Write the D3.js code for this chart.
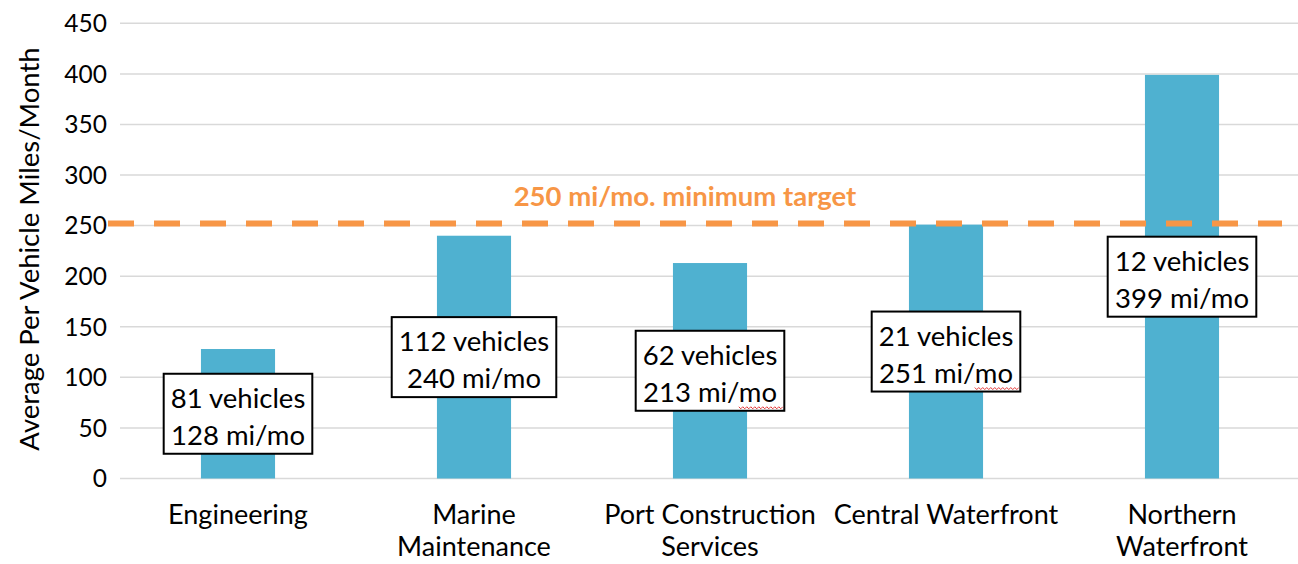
<!DOCTYPE html>
<html>
<head>
<meta charset="utf-8">
<script src="https://cdn.jsdelivr.net/npm/d3@7"></script>
<style>
  body { margin: 0; background: #fff; }
  svg { display: block; font-family: Lato, "Open Sans", sans-serif; }
</style>
</head>
<body>
<svg id="chart" width="1298" height="564"></svg>
<script>
// chart data
const categories = ['Engineering', 'Marine Maintenance', 'Port Construction Services', 'Central Waterfront', 'Northern Waterfront'];
const categoryLines = [['Engineering'], ['Marine', 'Maintenance'], ['Port Construction', 'Services'], ['Central Waterfront'], ['Northern', 'Waterfront']];
const milesPerMonth = [128, 240, 213, 251, 399];
const vehicleCounts = [81, 112, 62, 21, 12];
const yTicks = [0, 50, 100, 150, 200, 250, 300, 350, 400, 450];
const targetValue = 252;
const targetLabel = '250 mi/mo. minimum target';
const yTitle = 'Average Per Vehicle Miles/Month';
// boxes where the source had a spell-check squiggle under "mo"
const squiggled = ['Port Construction Services', 'Central Waterfront'];

const svg = d3.select('#chart');

const x = d3.scaleBand()
    .domain(categories)
    .range([120, 1300]);

const y = d3.scaleLinear()
    .domain([0, 450])
    .range([478.5, 23.3]);

const barW = x.bandwidth() * 0.314;

// gridlines
svg.append('g')
    .selectAll('line')
    .data(yTicks)
    .enter()
    .append('line')
    .attr('x1', 120)
    .attr('x2', 1298)
    .attr('y1', d => y(d))
    .attr('y2', d => y(d))
    .style('stroke', '#d9d9d9')
    .style('stroke-width', 1.5);

// y axis labels
svg.append('g')
    .selectAll('text')
    .data(yTicks)
    .enter()
    .append('text')
    .attr('x', 107)
    .attr('y', d => y(d))
    .attr('dy', '0.36em')
    .attr('text-anchor', 'end')
    .style('font-size', '24.5px')
    .style('fill', '#000')
    .text(d => d);

// y axis title
svg.append('text')
    .attr('transform', 'translate(39,249) rotate(-90)')
    .attr('text-anchor', 'middle')
    .style('font-size', '27.5px')
    .text(yTitle);

// bars
svg.append('g')
    .selectAll('rect')
    .data(categories)
    .enter()
    .append('rect')
    .attr('x', d => x(d) + x.bandwidth() / 2 - barW / 2)
    .attr('y', (d, i) => y(milesPerMonth[i]))
    .attr('width', barW)
    .attr('height', (d, i) => y(0) - y(milesPerMonth[i]))
    .style('fill', '#4fb1d0');

// target line
svg.append('line')
    .attr('x1', 108)
    .attr('x2', 1282)
    .attr('y1', y(targetValue))
    .attr('y2', y(targetValue))
    .style('stroke', '#f79646')
    .style('stroke-width', 6)
    .style('stroke-dasharray', '26,20');

svg.append('text')
    .attr('x', 685)
    .attr('y', 206)
    .attr('text-anchor', 'middle')
    .style('font-size', '27.5px')
    .style('font-weight', 'bold')
    .style('fill', '#f79646')
    .text(targetLabel);

// category labels
const cats = svg.append('g')
    .selectAll('text')
    .data(categories)
    .enter()
    .append('text')
    .attr('x', d => x(d) + x.bandwidth() / 2)
    .attr('y', 524)
    .attr('text-anchor', 'middle')
    .style('font-size', '27px');

cats.selectAll('tspan')
    .data((d, i) => categoryLines[i])
    .enter()
    .append('tspan')
    .attr('x', function() { return d3.select(this.parentNode).attr('x'); })
    .attr('dy', (d, j) => j === 0 ? 0 : 32)
    .text(d => d);

// value boxes, centred half way up each bar
const boxes = svg.append('g')
    .selectAll('g')
    .data(categories)
    .enter()
    .append('g')
    .attr('transform', (d, i) => `translate(${x(d) + x.bandwidth() / 2},${y(milesPerMonth[i] / 2)})`);

boxes.each(function(d, i) {
    const g = d3.select(this);
    const rect = g.append('rect');
    const t = g.append('text')
        .attr('text-anchor', 'middle')
        .style('font-size', '27.5px');
    t.append('tspan').attr('x', 0).attr('y', -6).text(`${vehicleCounts[i]} vehicles`);
    const line2 = t.append('tspan').attr('x', 0).attr('y', 31).text(`${milesPerMonth[i]} mi/mo`);
    const bb = t.node().getBBox();
    const w = bb.width + 14;
    rect.attr('x', -w / 2)
        .attr('y', -40)
        .attr('width', w)
        .attr('height', 80)
        .style('fill', '#fff')
        .style('stroke', '#000')
        .style('stroke-width', 2);

    if (squiggled.includes(d)) {
        const node = line2.node();
        const n = node.getNumberOfChars();
        const x0 = node.getStartPositionOfChar(n - 2).x;
        const x1 = node.getEndPositionOfChar(n - 1).x + 6;
        let p = `M${x0},36`;
        for (let xx = x0 + 2, k = 0; xx <= x1; xx += 2, k++) {
            p += `L${xx},${k % 2 === 0 ? 38 : 36}`;
        }
        g.append('path')
            .attr('d', p)
            .style('fill', 'none')
            .style('stroke', '#e02020')
            .style('stroke-width', 0.9);
    }
});
</script>
</body>
</html>
